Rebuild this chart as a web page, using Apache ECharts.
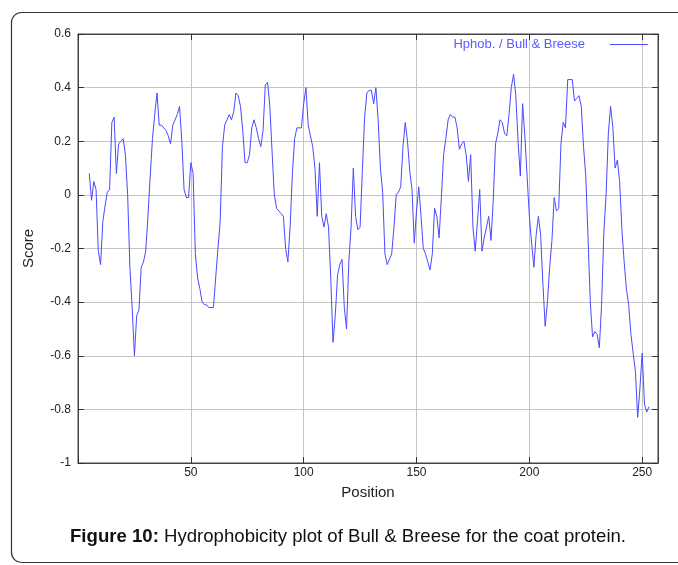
<!DOCTYPE html>
<html>
<head>
<meta charset="utf-8">
<title>Hydrophobicity plot</title>
<script src="https://cdn.jsdelivr.net/npm/echarts@6/dist/echarts.min.js"></script>
<style>
  html, body { margin: 0; padding: 0; background: #fff; }
  #main { width: 678px; height: 565px; }
</style>
</head>
<body>
<div id="main"></div>
<script>
// residue positions (window centre) and Bull & Breese scores
var startPos = 5;
var scores = [
  0.08, -0.02, 0.05, 0.02, -0.21, -0.26, -0.10, -0.04, 0.01, 0.02,          // 5-14
  0.27, 0.29, 0.08, 0.19, 0.20, 0.21, 0.15, 0.00, -0.27, -0.42,            // 15-24
  -0.60, -0.45, -0.43, -0.27, -0.25, -0.21, -0.08, 0.07, 0.21, 0.30,       // 25-34
  0.38, 0.26, 0.26, 0.25, 0.24, 0.22, 0.19, 0.26, 0.28, 0.30,              // 35-44
  0.33, 0.20, 0.02, -0.01, -0.01, 0.12, 0.08, -0.22, -0.31, -0.35,         // 45-54
  -0.40, -0.41, -0.41, -0.42, -0.42, -0.42, -0.31, -0.20, -0.10, 0.18,     // 55-64
  0.26, 0.28, 0.30, 0.28, 0.31, 0.38, 0.37, 0.33, 0.24, 0.12,              // 65-74
  0.12, 0.15, 0.25, 0.28, 0.25, 0.21, 0.18, 0.24, 0.41, 0.42,              // 75-84
  0.33, 0.16, 0.00, -0.05, -0.06, -0.07, -0.08, -0.20, -0.25, -0.12,       // 85-94
  0.08, 0.21, 0.25, 0.25, 0.25, 0.34, 0.40, 0.26, 0.22, 0.18,              // 95-104
  0.10, -0.08, 0.12, -0.08, -0.12, -0.07, -0.12, -0.31, -0.55, -0.45,      // 105-114
  -0.30, -0.26, -0.24, -0.42, -0.50, -0.25, -0.12, 0.10, -0.08, -0.13,     // 115-124
  -0.12, 0.09, 0.29, 0.38, 0.39, 0.39, 0.34, 0.40, 0.28, 0.10,             // 125-134
  0.01, -0.22, -0.26, -0.24, -0.22, -0.12, 0.00, 0.01, 0.03, 0.18,         // 135-144
  0.27, 0.20, 0.09, 0.02, -0.18, -0.06, 0.03, -0.08, -0.20, -0.22,         // 145-154
  -0.25, -0.28, -0.22, -0.05, -0.08, -0.16, -0.01, 0.15, 0.21, 0.28,       // 155-164
  0.30, 0.29, 0.29, 0.25, 0.17, 0.19, 0.20, 0.15, 0.05, 0.15,              // 165-174
  -0.12, -0.21, -0.10, 0.02, -0.21, -0.16, -0.12, -0.08, -0.17, -0.02,     // 175-184
  0.19, 0.23, 0.28, 0.27, 0.23, 0.22, 0.30, 0.40, 0.45, 0.37,              // 185-194
  0.20, 0.07, 0.34, 0.22, 0.07, -0.08, -0.18, -0.27, -0.15, -0.08,         // 195-204
  -0.15, -0.33, -0.49, -0.40, -0.27, -0.17, -0.01, -0.06, -0.05, 0.19,     // 205-214
  0.27, 0.25, 0.43, 0.43, 0.43, 0.35, 0.36, 0.37, 0.33, 0.18,              // 215-224
  0.07, -0.16, -0.40, -0.53, -0.51, -0.52, -0.57, -0.41, -0.14, 0.00,      // 225-234
  0.23, 0.33, 0.25, 0.10, 0.13, 0.05, -0.13, -0.25, -0.35, -0.41,          // 235-244
  -0.52, -0.59, -0.66, -0.83, -0.72, -0.59, -0.78, -0.81, -0.79            // 245-253
];
var xTicks = [50, 100, 150, 200, 250];
var yTicks = [-1, -0.8, -0.6, -0.4, -0.2, 0, 0.2, 0.4, 0.6];
var seriesName = 'Hphob. / Bull & Breese';

var points = scores.map(function (v, i) { return [startPos + i, v]; });

var myChart = echarts.init(document.getElementById('main'));

var tickStyle = { show: true, inside: true, length: 6, lineStyle: { color: '#333' } };
var lineStyleAx = { show: true, onZero: false, lineStyle: { color: '#444', width: 1 } };
var gridLine = { show: true, lineStyle: { color: '#c4c4c4', width: 1 } };

var option = {
  animation: false,
  backgroundColor: '#fff',
  textStyle: { fontFamily: 'Liberation Sans, Arial, sans-serif' },
  grid: { left: 78, right: 20, top: 34, bottom: 102, show: true, borderColor: '#444', borderWidth: 1 },
  legend: {
    right: 30,
    top: 38,
    padding: 0,
    align: 'right',
    icon: 'rect',
    itemWidth: 38,
    itemHeight: 1,
    data: [seriesName],
    textStyle: { color: '#5a5aff', fontSize: 13, padding: [0, 20, 0, 0] }
  },
  xAxis: [{
    type: 'value',
    min: 0,
    max: 257,
    interval: 50,
    name: 'Position',
    nameLocation: 'middle',
    nameGap: 22,
    nameTextStyle: { fontSize: 15, color: '#222' },
    axisLine: lineStyleAx,
    axisTick: tickStyle,
    splitLine: gridLine,
    axisLabel: {
      color: '#222',
      fontSize: 12,
      margin: 4,
      formatter: function (v) { return xTicks.indexOf(v) >= 0 ? String(v) : ''; }
    }
  }, {
    type: 'value',
    position: 'top',
    min: 0,
    max: 257,
    interval: 50,
    axisLine: lineStyleAx,
    axisTick: tickStyle,
    splitLine: { show: false },
    axisLabel: { show: false }
  }],
  yAxis: [{
    type: 'value',
    min: -1,
    max: 0.6,
    interval: 0.2,
    name: 'Score',
    nameLocation: 'middle',
    nameGap: 42,
    nameTextStyle: { fontSize: 15, color: '#222' },
    axisLine: lineStyleAx,
    axisTick: tickStyle,
    splitLine: gridLine,
    axisLabel: {
      color: '#222',
      fontSize: 12,
      margin: 7,
      formatter: function (v) {
        var r = Math.round(v * 10) / 10;
        return yTicks.indexOf(r) >= 0 ? String(r) : '';
      }
    }
  }, {
    type: 'value',
    position: 'right',
    min: -1,
    max: 0.6,
    interval: 0.2,
    axisLine: lineStyleAx,
    axisTick: tickStyle,
    splitLine: { show: false },
    axisLabel: { show: false }
  }],
  series: [{
    name: seriesName,
    type: 'line',
    data: points,
    symbol: 'none',
    sampling: 'none',
    lineStyle: { color: '#4a4aff', width: 1 },
    itemStyle: { color: '#4a4aff' }
  }],
  graphic: [{
    type: 'rect',
    shape: { x: 11.5, y: 12.5, width: 700, height: 550, r: 10 },
    style: { fill: 'none', stroke: '#333', lineWidth: 1.2 },
    silent: true,
    z: -1
  }, {
    type: 'text',
    left: 70,
    top: 527,
    style: {
      text: '{b|Figure 10:} Hydrophobicity plot of Bull & Breese for the coat protein.',
      fontSize: 18.6,
      fontFamily: 'Liberation Sans, Arial, sans-serif',
      fill: '#111',
      rich: {
        b: { fontWeight: 'bold', fontSize: 18.6, fontFamily: 'Liberation Sans, Arial, sans-serif', fill: '#111' }
      }
    }
  }]
};

myChart.setOption(option);
</script>
</body>
</html>
